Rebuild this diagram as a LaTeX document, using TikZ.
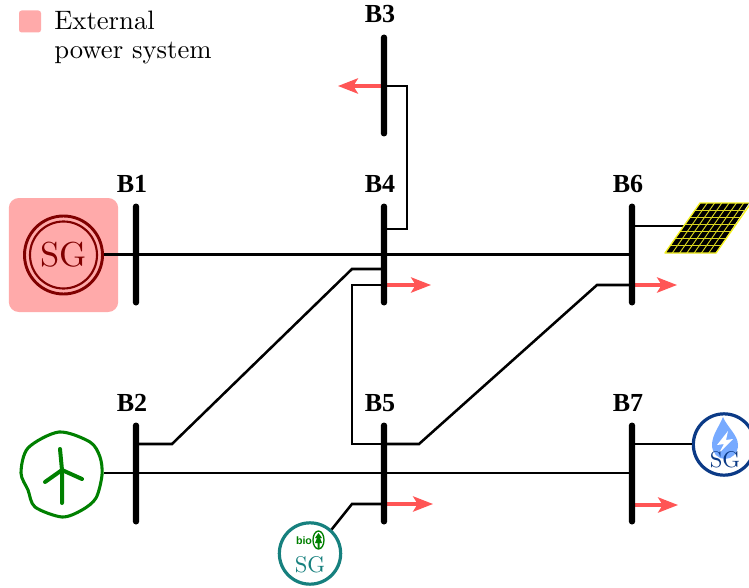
\documentclass[tikz,border=0pt]{standalone}
\usepackage{fontspec}
\newfontfamily\busfont{Liberation Serif}
\newfontfamily\biofont{Liberation Sans}
\newfontfamily\lmten{Latin Modern Roman}[OpticalSize=10]
\usetikzlibrary{arrows.meta,calc}
\definecolor{extpink}{HTML}{FFAAAA}
\definecolor{loadred}{HTML}{FF5555}
\definecolor{sgred}{HTML}{800000}
\definecolor{windgreen}{HTML}{008000}
\definecolor{bioteal}{HTML}{16807E}
\definecolor{hydroblue}{HTML}{0B3A86}
\definecolor{dropblue}{HTML}{77AAFF}
\definecolor{pvyellow}{HTML}{F4F020}
\definecolor{pvgrid}{HTML}{D8D420}
\tikzset{
  bus/.style={draw=none,fill=black,rectangle,rounded corners=2.4pt,minimum width=4.8pt,minimum height=76.5pt,inner sep=0pt},
  buslabel/.style={font=\busfont\bfseries\fontsize{19.5}{22}\selectfont,inner sep=0pt},
  wire/.style={draw=black,line width=1.9pt,line join=miter},
  loadarrow/.style={draw=loadred,line width=2.3pt,-{Stealth[length=15pt,width=11.5pt,inset=3.5pt]}},
  sgtext/.style={inner sep=0pt,font=\lmten\fontsize{17}{20}\selectfont},
  gencircle/.style={circle,draw,fill=white,inner sep=0pt,line width=2.4pt,minimum size=46pt},
}
\begin{document}
\begin{tikzpicture}[x=0.75pt,y=-0.75pt]
\clip (0,0) rectangle (749,588);
% legend
\node[fill=extpink,rounded corners=2pt,minimum width=16.5pt,minimum height=16.5pt,inner sep=0pt] (legendbox) at (30,21.5) {};
\node[anchor=north west,inner sep=0pt,align=left,font=\lmten\fontsize{20}{21.5}\selectfont] (legendtext) at (54,11) {External\\power system};
% external system
\node[fill=extpink,rounded corners=7.5pt,minimum width=82pt,minimum height=85.5pt,inner sep=0pt] (extbox) at (63.5,255) {};
% generators as nodes
\node[circle,inner sep=0pt,minimum size=60pt] (sg1) at (63.5,255) {};
\node[circle,inner sep=0pt,minimum size=63pt] (wind) at (62,473) {};
\node[gencircle,draw=bioteal] (bio) at (310,553.5) {};
\node[gencircle,draw=hydroblue] (hydro) at (724,444.5) {};
\coordinate (pv) at (686,226);
% connectors
\coordinate (B1c) at (136,254.5);
\coordinate (B2c) at (136,473.5);
\coordinate (B3c) at (384,85.5);
\coordinate (B4c) at (384,254.5);
\coordinate (B5c) at (384,473.5);
\coordinate (B6c) at (632,254.5);
\coordinate (B7c) at (632,473.5);
\draw[wire] (sg1.east |- 0,254.5) -- (B6c |- 0,254.5);
\draw[wire] (wind.east |- 0,473) -- (B7c |- 0,473);
\draw[wire] (B4c |- 0,229) -- (407,229) -- (407,86) -- (B3c |- 0,86);
\draw[wire] (B2c |- 0,444) -- (172,444) -- (352,269) -- (B4c |- 0,269);
\draw[wire] (B4c |- 0,285) -- (352,285) -- (352,444) -- (B5c |- 0,444);
\draw[wire] (B5c |- 0,444) -- (419,444) -- (597,285) -- (B6c |- 0,285);
\draw[wire] (B7c |- 0,444) -- (hydro.west |- 0,444);
\draw[wire] (B6c |- 0,226) -- (pv);
\draw[wire] (B5c |- 0,504) -- (352,504) -- (bio.48);
% loads
\draw[loadarrow] (B3c |- 0,86) -- (338,86);
\draw[loadarrow] (B4c |- 0,285) -- (431,285);
\draw[loadarrow] (B6c |- 0,285) -- (677,285);
\draw[loadarrow] (B5c |- 0,504) -- (433,504);
\draw[loadarrow] (B7c |- 0,505) -- (678,505);
% buses
\node[bus] (B1) at (B1c) {};
\node[bus] (B2) at (B2c) {};
\node[bus] (B3) at (B3c) {};
\node[bus] (B4) at (B4c) {};
\node[bus] (B5) at (B5c) {};
\node[bus] (B6) at (B6c) {};
\node[bus] (B7) at (B7c) {};
\node[buslabel] (L1) at (132,184) {B1};
\node[buslabel] (L2) at (132,403) {B2};
\node[buslabel] (L3) at (380,14) {B3};
\node[buslabel] (L4) at (380,184) {B4};
\node[buslabel] (L5) at (380,403) {B5};
\node[buslabel] (L6) at (628,184) {B6};
\node[buslabel] (L7) at (628,403) {B7};
% SG external
\draw[sgred,line width=2.2pt] (sg1) circle[radius=39];
\draw[sgred,line width=1.6pt] (sg1) circle[radius=33.5];
\node[inner sep=0pt,text=sgred,font=\lmten\fontsize{26}{28}\selectfont] (sg1t) at (63.5,255) {SG};
% wind
\draw[windgreen,line width=2.3pt,line join=round] plot[smooth cycle,tension=0.5] coordinates {(59,432) (90,442) (100,457) (102,475) (96,498) (82,510) (62,517) (35,507) (28,490) (21,473) (28,448)};
\draw[windgreen,line width=3pt,line cap=round,line join=round] (62,503) -- (62,470) -- (60,449);
\draw[windgreen,line width=3pt,line cap=round,line join=round] (45,482) -- (62,470) -- (82,479);
% PV
\fill[black] (700,203) -- (749,203) -- (716,253) -- (665,253) -- cycle;
\foreach \i in {1,...,6} {
  \draw[pvgrid,line width=0.7pt] ($(700,203)!\i/7!(751,203)$) -- ($(665,253)!\i/7!(716,253)$);
  \draw[pvgrid,line width=0.7pt] ($(700,203)!\i/7!(665,253)$) -- ($(751,203)!\i/7!(716,253)$);
}
\draw[pvyellow,line width=1pt,line join=round] (700,203) -- (751,203) -- (716,253) -- (665,253) -- cycle;
% hydro drop
\fill[dropblue] (723,417) .. controls (727,427) and (738,435) .. (738,445) .. controls (738,453) and (732,459) .. (725,459) .. controls (718,459) and (712,453) .. (712,445) .. controls (712,435) and (719,427) .. (723,417) -- cycle;
\fill[white] (728,431) -- (717,445) -- (724,444) -- (719,453) -- (733,439) -- (726,440) -- cycle;
\node[sgtext,text=hydroblue] (hydrot) at (725,460) {SG};
% bio
\node[inner sep=0pt,text=windgreen,font=\biofont\bfseries\fontsize{8}{9}\selectfont] (biot) at (304,540.5) {bio};
\draw[windgreen,line width=1pt] (318.5,540) ellipse[x radius=5.5,y radius=9];
\fill[windgreen] (318.5,533) -- (322,538) -- (320,538) -- (322,543) -- (319.5,543) -- (319.5,548) -- (317.5,548) -- (317.5,543) -- (315,543) -- (317,538) -- (315,538) -- cycle;
\node[sgtext,text=bioteal] (biosg) at (310,565) {SG};
\end{tikzpicture}
\end{document}
